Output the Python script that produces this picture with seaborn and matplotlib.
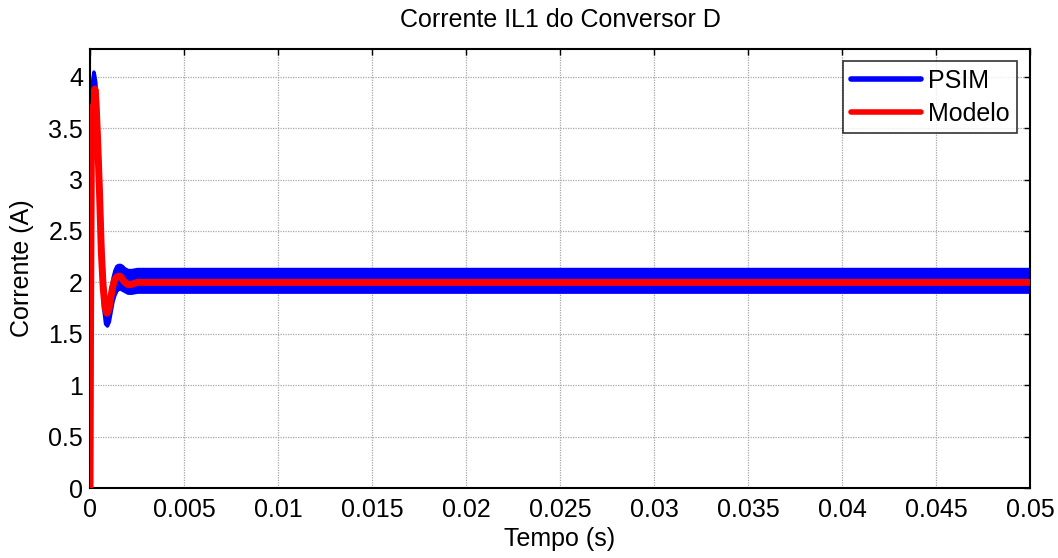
import numpy as np
import pandas as pd
import matplotlib
matplotlib.use("Agg")
import matplotlib.pyplot as plt
import seaborn as sns
from matplotlib.lines import Line2D

# Modelo (curva média)
t_modelo = [0, 0.00003, 0.00007, 0.0001, 0.00013, 0.00017, 0.00021, 0.00026,
            0.00032, 0.0004, 0.0005, 0.0006, 0.0007, 0.0008, 0.0009, 0.001,
            0.0011, 0.0012, 0.0013, 0.0014, 0.0015, 0.0016, 0.0017, 0.0018,
            0.002, 0.0022, 0.0025, 0.003, 0.05]
i_modelo = [0, 1.7, 3.2, 3.7, 3.55, 3.35, 3.7, 3.88, 3.75, 3.4, 2.9, 2.3,
            1.95, 1.75, 1.7, 1.74, 1.85, 1.95, 2.02, 2.05, 2.06, 2.06, 2.04,
            2.01, 1.98, 1.98, 2.0, 2.0, 2.0]

# PSIM (envoltória do ripple de chaveamento)
t_psim = [0, 0.00003, 0.00007, 0.0001, 0.00014, 0.00018, 0.00022, 0.00028,
          0.00035, 0.00042, 0.0005, 0.0006, 0.0007, 0.0008, 0.0009, 0.001,
          0.0011, 0.0012, 0.0013, 0.0014, 0.0015, 0.0016, 0.0017, 0.0018,
          0.002, 0.0022, 0.0025, 0.003, 0.05]
i_psim_sup = [0, 1.9, 3.6, 3.95, 4.0, 4.05, 4.02, 3.95, 3.75, 3.45, 3.05,
              2.5, 2.05, 1.85, 1.75, 1.8, 1.95, 2.05, 2.12, 2.16, 2.17, 2.17,
              2.16, 2.14, 2.12, 2.12, 2.13, 2.13, 2.13]
i_psim_inf = [0, 1.5, 2.9, 3.3, 3.35, 3.25, 3.35, 3.45, 3.3, 2.95, 2.55,
              2.05, 1.75, 1.6, 1.58, 1.62, 1.72, 1.82, 1.88, 1.92, 1.94, 1.94,
              1.93, 1.92, 1.9, 1.9, 1.91, 1.91, 1.91]

x_ticks = [0, 0.005, 0.01, 0.015, 0.02, 0.025, 0.03, 0.035, 0.04, 0.045, 0.05]
x_labels = ["0", "0.005", "0.01", "0.015", "0.02", "0.025", "0.03", "0.035",
            "0.04", "0.045", "0.05"]
y_ticks = [0, 0.5, 1, 1.5, 2, 2.5, 3, 3.5, 4]
y_labels = ["0", "0.5", "1", "1.5", "2", "2.5", "3", "3.5", "4"]

sns.set_style("white", {"text.color": "black", "axes.labelcolor": "black",
                        "xtick.color": "black", "ytick.color": "black"})
plt.rcParams['font.family'] = ['Liberation Sans', 'DejaVu Sans']
plt.rcParams['font.size'] = 18

fig = plt.figure(figsize=(10.58, 5.58), dpi=100)
ax = fig.add_axes([0.0851, 0.1254, 0.9735 - 0.0851, 0.9122 - 0.1254])

df_psim = pd.DataFrame({"t": t_psim, "sup": i_psim_sup, "inf": i_psim_inf})
df_psim["med"] = (df_psim["sup"] + df_psim["inf"]) / 2
df_modelo = pd.DataFrame({"t": t_modelo, "i": i_modelo})

ax.fill_between(df_psim["t"], df_psim["inf"], df_psim["sup"],
                color="#0000ff", lw=2.5, edgecolor="#0000ff", zorder=2)
sns.lineplot(data=df_psim, x="t", y="med", color="#0000ff", lw=2,
             ax=ax, zorder=2)
sns.lineplot(data=df_modelo, x="t", y="i", color="#ff0000", lw=5,
             ax=ax, zorder=3)

ax.set_xlim(0, 0.05)
ax.set_ylim(0, 4.27)
ax.set_xticks(x_ticks)
ax.set_xticklabels(x_labels)
ax.set_yticks(y_ticks)
ax.set_yticklabels(y_labels)
ax.grid(True, color="#a8a8a8", linestyle=(0, (1, 1)), lw=0.9)
ax.tick_params(direction="in", top=True, right=True, length=4, width=1,
               labelsize=18, colors="black")
ax.tick_params(axis="x", pad=7)
ax.tick_params(axis="y", pad=5)
for s in ax.spines.values():
    s.set_color("black")
    s.set_linewidth(1.5)

ax.set_title("Corrente IL1 do Conversor D", fontsize=18, pad=16, color="black")
ax.set_xlabel("Tempo (s)", fontsize=18, labelpad=4, color="black")
ax.set_ylabel("Corrente (A)", fontsize=18, labelpad=10, color="black")

handles = [Line2D([], [], color="#0000ff", lw=4),
           Line2D([], [], color="#ff0000", lw=4)]
leg = ax.legend(handles, ["PSIM", "Modelo"], loc="upper right",
                fontsize=18, frameon=True, fancybox=False, handlelength=2.8,
                handletextpad=0.3, borderpad=0.3, labelspacing=0.35,
                borderaxespad=0.5)
leg.get_frame().set_edgecolor("black")
leg.get_frame().set_linewidth(1.2)
for txt in leg.get_texts():
    txt.set_color("black")

fig.savefig("out.png", dpi=100, facecolor="white")
